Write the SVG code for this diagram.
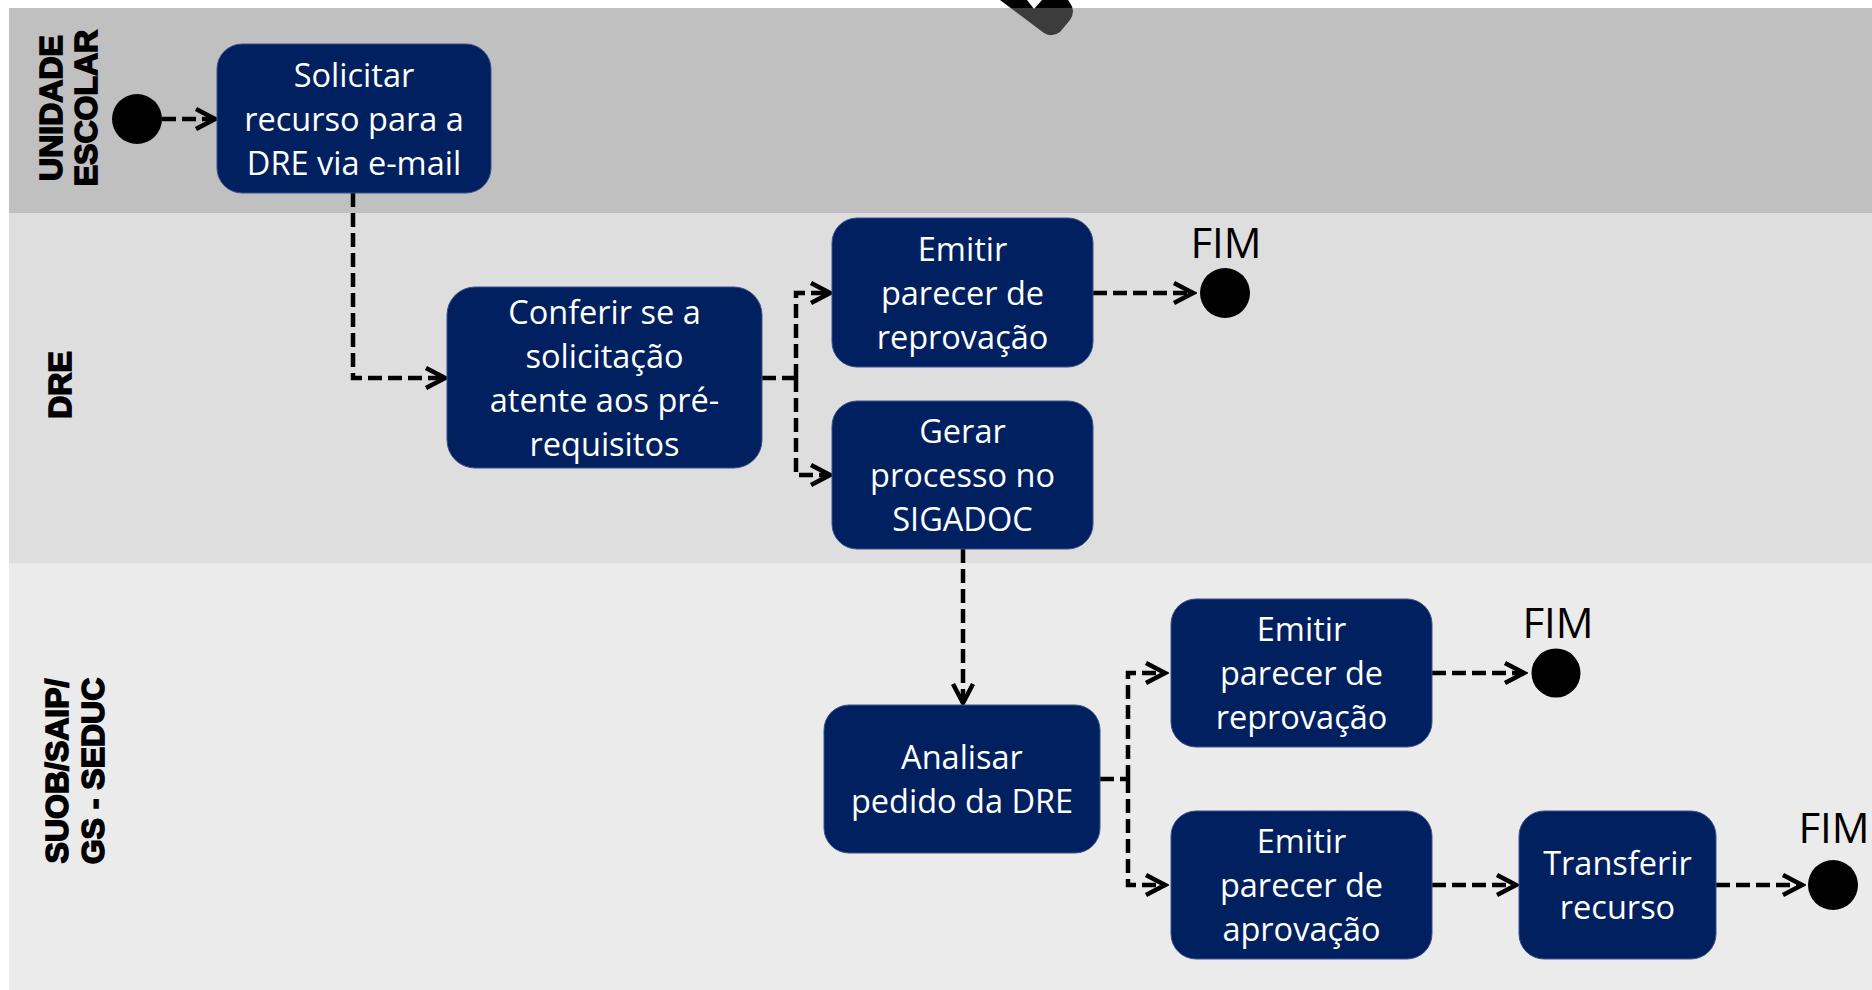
<svg xmlns="http://www.w3.org/2000/svg" width="1872" height="990" viewBox="0 0 1872 990">
<style>
.box{fill:#002060;stroke:#3a5288;stroke-width:1}
.bt{font-family:"Open Sans","Liberation Sans",sans-serif;font-size:32.5px;fill:#fff;text-anchor:middle}
.lane-label{font-family:"Liberation Sans",Arial,sans-serif;font-weight:bold;font-size:32px;fill:#000;stroke:#000;stroke-width:1.6;text-anchor:middle}
.fim{font-family:"Open Sans","Liberation Sans",sans-serif;font-size:42px;fill:#000;text-anchor:middle}
.conn{fill:none;stroke:#000;stroke-width:4.5;stroke-dasharray:14 6}
.arr{marker-end:url(#ah)}
</style>
<defs>
<marker id="ah" markerUnits="userSpaceOnUse" markerWidth="30" markerHeight="30" viewBox="-26 -15 30 30" refX="0" refY="0" orient="auto">
<path d="M-19,-10 L0,0 L-19,10" fill="none" stroke="#000" stroke-width="4.5" stroke-linejoin="miter"/>
</marker>
</defs>
<rect x="0" y="0" width="1872" height="990" fill="#fff"/>
<g id="top-mark">
<path d="M1000,0 L1044,33 Q1052,38 1060,32 L1070,20 Q1076,11 1070,3 L1068,0 Z" fill="#000"/>
<path d="M1027,0 L1042,0 L1034,9 Z" fill="#fff"/>
</g>
<g id="lanes">
<rect x="9" y="8" width="1863" height="205" fill="#7c7c7c" fill-opacity="0.482"/>
<rect x="9" y="213" width="1863" height="350" fill="#dedede"/>
<rect x="9" y="563" width="1863" height="427" fill="#ebebeb"/>
<text class="lane-label" transform="translate(62,108) rotate(-90)">UNIDADE</text>
<text class="lane-label" transform="translate(97,108) rotate(-90)">ESCOLAR</text>
<text class="lane-label" transform="translate(71,385) rotate(-90)">DRE</text>
<text class="lane-label" transform="translate(68,771) rotate(-90)">SUOB/SAIP/</text>
<text class="lane-label" transform="translate(104,771) rotate(-90)">GS - SEDUC</text>
</g>
<g id="connectors">
<path class="conn arr" d="M162,119 H215"/>
<path class="conn arr" d="M353,193 V378 H445"/>
<path class="conn" d="M762,378 H796"/>
<path class="conn arr" d="M796,378 V293 H830"/>
<path class="conn arr" d="M796,378 V475 H830"/>
<path class="conn arr" d="M1093,293 H1193"/>
<path class="conn arr" d="M963,549 V703"/>
<path class="conn" d="M1100,779 H1128"/>
<path class="conn arr" d="M1128,779 V673 H1165"/>
<path class="conn arr" d="M1128,779 V885 H1165"/>
<path class="conn arr" d="M1432,673 H1524"/>
<path class="conn arr" d="M1432,885 H1516"/>
<path class="conn arr" d="M1716,885 H1802"/>
</g>
<g id="start"><circle cx="137" cy="119" r="25" fill="#000"/></g>
<g id="solicitar">
<rect class="box" x="217" y="44" width="274" height="149" rx="25"/>
<text class="bt" x="354" y="87">Solicitar</text>
<text class="bt" x="354" y="131">recurso para a</text>
<text class="bt" x="354" y="175">DRE via e-mail</text>
</g>
<g id="conferir">
<rect class="box" x="447" y="287" width="315" height="181" rx="28"/>
<text class="bt" x="604.5" y="323.5">Conferir se a</text>
<text class="bt" x="604.5" y="367.5">solicitação</text>
<text class="bt" x="604.5" y="411.5">atente aos pré-</text>
<text class="bt" x="604.5" y="455.5">requisitos</text>
</g>
<g id="emitir-reprov-dre">
<rect class="box" x="832" y="218" width="261" height="149" rx="25"/>
<text class="bt" x="962.5" y="260.5">Emitir</text>
<text class="bt" x="962.5" y="304.5">parecer de</text>
<text class="bt" x="962.5" y="348.5">reprovação</text>
</g>
<g id="fim1">
<text class="fim" x="1226" y="258">FIM</text>
<circle cx="1225" cy="293" r="25" fill="#000"/>
</g>
<g id="gerar">
<rect class="box" x="832" y="401" width="261" height="148" rx="25"/>
<text class="bt" x="962.5" y="443">Gerar</text>
<text class="bt" x="962.5" y="487">processo no</text>
<text class="bt" x="962.5" y="531">SIGADOC</text>
</g>
<g id="analisar">
<rect class="box" x="824" y="705" width="276" height="148" rx="25"/>
<text class="bt" x="962" y="769">Analisar</text>
<text class="bt" x="962" y="813">pedido da DRE</text>
</g>
<g id="emitir-reprov-seduc">
<rect class="box" x="1171" y="599" width="261" height="148" rx="25"/>
<text class="bt" x="1301.5" y="641">Emitir</text>
<text class="bt" x="1301.5" y="685">parecer de</text>
<text class="bt" x="1301.5" y="729">reprovação</text>
</g>
<g id="fim2">
<text class="fim" x="1558" y="638">FIM</text>
<circle cx="1556" cy="673" r="24.5" fill="#000"/>
</g>
<g id="emitir-aprov">
<rect class="box" x="1171" y="811" width="261" height="148" rx="25"/>
<text class="bt" x="1301.5" y="853">Emitir</text>
<text class="bt" x="1301.5" y="897">parecer de</text>
<text class="bt" x="1301.5" y="941">aprovação</text>
</g>
<g id="transferir">
<rect class="box" x="1519" y="811" width="197" height="148" rx="25"/>
<text class="bt" x="1617.5" y="875">Transferir</text>
<text class="bt" x="1617.5" y="919">recurso</text>
</g>
<g id="fim3">
<text class="fim" x="1834" y="843">FIM</text>
<circle cx="1833" cy="885" r="25" fill="#000"/>
</g>
</svg>
